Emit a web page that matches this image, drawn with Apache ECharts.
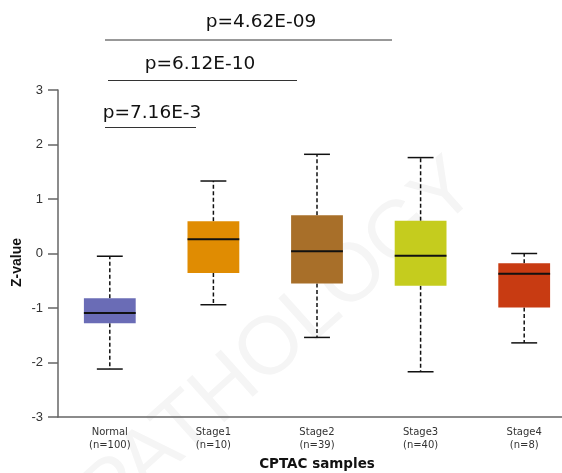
<!DOCTYPE html>
<html>
<head>
<meta charset="utf-8">
<script src="https://cdn.jsdelivr.net/npm/echarts@6/dist/echarts.min.js"></script>
<style>
  html, body { margin: 0; padding: 0; background: #fff; overflow: hidden; }
  /* the plot area runs past the right edge of the window */
  #chart { width: 576px; height: 473px; }
</style>
</head>
<body>
<div id="chart"></div>
<script>
// Z-value distribution of CPTAC samples by tumour stage
const categories = ['Normal', 'Stage1', 'Stage2', 'Stage3', 'Stage4'];
const sampleCounts = [100, 10, 39, 40, 8];
const whiskerLow  = [-2.12, -0.94, -1.54, -2.17, -1.64];
const quartile1   = [-1.28, -0.36, -0.55, -0.59, -0.99];
const medians     = [-1.09,  0.26,  0.04, -0.04, -0.37];
const quartile3   = [-0.82,  0.59,  0.70,  0.60, -0.18];
const whiskerHigh = [-0.05,  1.33,  1.82,  1.76,  0.00];
const boxColors = ['#6a6cb6', '#e08c02', '#a86f29', '#c5cc1e', '#c83b12'];
const yTicks = [-3, -2, -1, 0, 1, 2, 3];
const pValues = ['p=4.62E-09', 'p=6.12E-10', 'p=7.16E-3'];

const boxData = categories.map((c, i) => [i, whiskerLow[i], quartile1[i], medians[i], quartile3[i], whiskerHigh[i]]);

function renderBox(params, api) {
  const i = api.value(0);
  const cx = api.coord([i, 0])[0];
  const band = api.size([1, 0])[0];
  const half = band * 0.25;
  const cap = band * 0.125;
  const y = v => api.coord([i, v])[1];
  const yLo = y(api.value(1)), yQ1 = y(api.value(2)), yMed = y(api.value(3)),
        yQ3 = y(api.value(4)), yHi = y(api.value(5));
  const dash = { stroke: '#111', lineWidth: 1.5, lineDash: [4, 2.5] };
  const solid = { stroke: '#111', lineWidth: 1.5 };
  return {
    type: 'group',
    children: [
      { type: 'line', shape: { x1: cx, y1: yQ3, x2: cx, y2: yHi }, style: dash },
      { type: 'line', shape: { x1: cx, y1: yQ1, x2: cx, y2: yLo }, style: dash },
      { type: 'line', shape: { x1: cx - cap, y1: yHi, x2: cx + cap, y2: yHi }, style: solid },
      { type: 'line', shape: { x1: cx - cap, y1: yLo, x2: cx + cap, y2: yLo }, style: solid },
      { type: 'rect', shape: { x: cx - half, y: yQ3, width: half * 2, height: yQ1 - yQ3 },
        style: { fill: boxColors[params.dataIndex] } },
      { type: 'line', shape: { x1: cx - half, y1: yMed, x2: cx + half, y2: yMed },
        style: { stroke: '#111', lineWidth: 2 } }
    ]
  };
}

const chart = echarts.init(document.getElementById('chart'), null, { renderer: 'canvas' });

const sigLine = { stroke: '#333', lineWidth: 1 };
const sigFont = '18.5px "DejaVu Sans", sans-serif';

chart.setOption({
  backgroundColor: '#fff',
  animation: false,
  grid: { left: 58, right: 0, top: 90, bottom: 56, containLabel: false, outerBoundsMode: 'none' },
  xAxis: {
    type: 'category',
    data: categories,
    name: 'CPTAC samples',
    nameLocation: 'middle',
    nameGap: 40,
    nameMoveOverlap: false,
    nameTextStyle: { fontFamily: 'DejaVu Sans', fontWeight: 'bold', fontSize: 13.5, color: '#111' },
    axisLine: { onZero: false, lineStyle: { color: '#666', width: 1.5 } },
    axisTick: { show: false },
    axisLabel: {
      margin: 9,
      fontFamily: 'DejaVu Sans',
      fontSize: 10,
      lineHeight: 13,
      color: '#333',
      formatter: (v, i) => v + '\n(n=' + sampleCounts[i] + ')'
    },
    splitLine: { show: false }
  },
  yAxis: {
    type: 'value',
    min: yTicks[0],
    max: yTicks[yTicks.length - 1],
    interval: 1,
    name: 'Z-value',
    nameLocation: 'middle',
    nameGap: 34,
    nameMoveOverlap: false,
    nameTextStyle: { fontFamily: 'Liberation Sans', fontWeight: 'bold', fontSize: 14, color: '#111', padding: [0, 0, 0, -18] },
    axisLine: { show: true, lineStyle: { color: '#666', width: 1.5 } },
    axisTick: { show: true, length: 10, lineStyle: { color: '#666', width: 1.5 } },
    axisLabel: { margin: 15, fontFamily: 'Liberation Sans', fontSize: 13, color: '#333' },
    splitLine: { show: false }
  },
  graphic: [
    { type: 'text', z: -10, x: 280, y: 342, rotation: 0.73,
      style: { text: 'PATHOLOGY', font: '82px "Liberation Sans", Arial, sans-serif', fill: '#f5f5f5',
               align: 'center', verticalAlign: 'middle' } },
    { type: 'text', x: 261, y: 22, style: { text: pValues[0], font: sigFont, fill: '#111', align: 'center', verticalAlign: 'middle' } },
    { type: 'line', shape: { x1: 105, y1: 40, x2: 392, y2: 40 }, style: sigLine },
    { type: 'text', x: 200, y: 64, style: { text: pValues[1], font: sigFont, fill: '#111', align: 'center', verticalAlign: 'middle' } },
    { type: 'line', shape: { x1: 108, y1: 80.5, x2: 297, y2: 80.5 }, style: sigLine },
    { type: 'text', x: 152, y: 113, style: { text: pValues[2], font: sigFont, fill: '#111', align: 'center', verticalAlign: 'middle' } },
    { type: 'line', shape: { x1: 105, y1: 127.5, x2: 196, y2: 127.5 }, style: sigLine }
  ],
  series: [{
    type: 'custom',
    renderItem: renderBox,
    encode: { x: 0, y: [1, 2, 3, 4, 5] },
    data: boxData,
    z: 2
  }]
});
</script>
</body>
</html>
